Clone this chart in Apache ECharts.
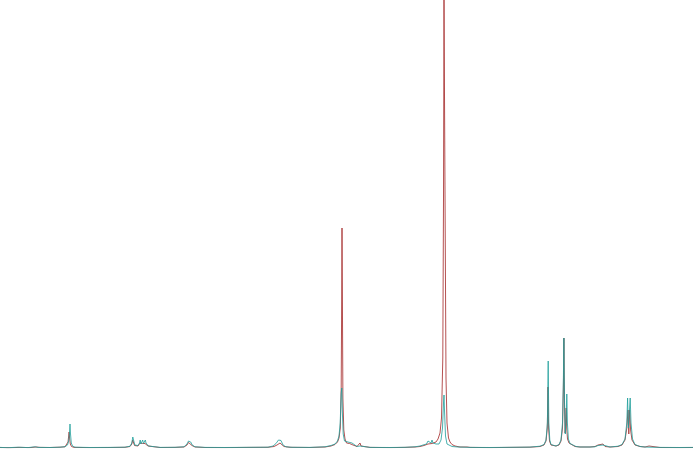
<!DOCTYPE html>
<html>
<head>
<meta charset="utf-8">
<script src="https://cdn.jsdelivr.net/npm/echarts@6/dist/echarts.min.js"></script>
<style>html,body{margin:0;padding:0;background:#fff}#c{width:693px;height:467px}</style>
</head>
<body>
<div id="c"></div>
<script>
// Shift positions (arbitrary units, left to right) and intensities
const redSpectrum = [
[0,0.5],[10,0.3],[20,0.6],[30,0.4],[36,1],[40,0.6],[50,0.5],[60,0.8],[65,1.2],[67,2.5],[68,6],[68.7,12],[69.1,16],[69.6,10],[70.3,4],[71.5,1.5],[74,0.6],[90,0.4],[110,0.5],[125,0.7],[130,1.5],[131.8,4],[132.7,8],[133.1,9],[133.6,6],[134.5,2.5],[136,1.5],[138,2],[139.5,3.5],[140,5],[140.6,3],[141.5,3],[142.4,4.5],[142.8,5],[143.4,3],[144.2,3.2],[145,4.5],[145.4,4.8],[146,3],[146.7,4],[147.2,4],[148,2],[150,0.8],[160,0.5],[175,0.6],[184,1],[187,3],[188.5,5.5],[189.5,7],[190.5,5],[192,2.5],[195,1],[205,0.5],[225,0.4],[250,0.6],[268,0.7],[274,1.5],[277,3],[279,4.5],[280,5],[281.5,3.5],[284,1.5],[290,0.7],[310,0.5],[325,1],[331,2],[335,3.5],[337.5,6],[339,10],[340.3,20],[341.2,60],[341.7,150],[342,220],[342.4,150],[342.9,50],[343.8,18],[345,9],[346.5,5],[348,4],[349.5,4.5],[351,3.5],[353,3],[355,2],[357,1.5],[359,3],[360,5],[361,2],[363,1],[370,0.6],[390,0.4],[405,0.6],[415,1],[420,1.5],[424,2.5],[426,3],[428,4],[430,4],[432,4.5],[434,5],[436,6],[438,9],[440,15],[441.5,30],[442.8,90],[443.5,250],[444,448],[444.6,448],[445.3,200],[446,70],[447,25],[448.5,10],[450,6],[452,3.5],[455,2],[460,1],[464,1],[466,3],[467,1],[470,0.6],[490,0.4],[510,0.6],[530,0.8],[540,1.5],[544,3],[546,7],[547.3,20],[548,61],[548.6,20],[549.5,7],[551,3],[553,2],[556,2],[559,3],[561,7],[562.5,20],[563.4,60],[563.9,110],[564.5,45],[565.1,15],[565.7,25],[566.2,40],[566.7,20],[567.5,9],[569,5],[571,3],[575,1.5],[580,1],[590,1],[595,1.5],[598,3],[600,1.5],[603,4],[605,1.5],[610,1],[618,1.5],[622,3],[625,8],[626.8,20],[628,38],[628.8,14],[629.6,38],[630.6,18],[632,8],[635,3],[640,1.5],[645,1],[649,2],[651,1],[660,0.5],[680,0.4],[693,0.5]
];
const tealSpectrum = [
[0,0.6],[8,0.3],[18,0.8],[28,0.4],[35,1.2],[38,0.6],[50,0.5],[60,0.8],[65,1.3],[67.5,3],[68.7,7],[69.5,15],[70,24],[70.5,14],[71.3,5],[72.5,2],[75,0.8],[90,0.5],[110,0.6],[125,0.8],[130,1.8],[131.8,5],[132.8,11],[133.2,12],[133.8,7],[134.8,3],[136.5,2],[138,2.5],[139.5,5],[140.2,8],[140.9,4],[141.8,4.5],[142.7,8],[143.5,4.5],[144.5,4.5],[145.3,8],[146,5],[146.9,7],[147.5,5],[148.5,2],[150,1],[160,0.6],[175,0.7],[184,1.2],[187,4],[188.5,7],[189.5,9],[190.7,6],[192.2,3],[195,1.2],[205,0.6],[225,0.5],[250,0.7],[268,0.8],[273,2],[276,4.5],[278.5,8],[279.8,9],[281,7.5],[283,3],[286,1.2],[292,0.7],[310,0.6],[325,1.2],[331,2.5],[335,4],[337.5,7],[339,12],[340.2,25],[341.2,55],[341.8,60],[342.4,35],[343.2,14],[344.5,7],[346.5,5],[348,6],[350,7],[352,5],[354,3],[357,1.5],[360,2],[362,1],[370,0.6],[390,0.5],[405,0.7],[415,1.2],[420,2],[423,3],[425,5],[426.5,4],[428,7],[429,5],[430,8],[431,5],[432,8],[433,5],[434.5,4],[436,4],[437.5,3],[439,4],[441,8],[442.5,20],[443.5,45],[444,53],[444.6,35],[445.5,12],[447,4],[449,2],[452,1.5],[458,1],[465,0.8],[470,0.6],[490,0.5],[510,0.7],[530,0.9],[540,1.8],[544,3.5],[546,8],[547.4,25],[548.2,87],[548.8,25],[549.8,8],[551,3.5],[553,2],[556,2],[559,3.5],[561,8],[562.5,25],[563.4,70],[563.9,110],[564.6,40],[565.3,14],[566.2,30],[566.8,54],[567.4,25],[568.4,9],[570,4.5],[572,2.5],[576,1.5],[580,1],[590,1],[595,1.2],[598,2.5],[600,1.2],[603,3],[605,1.2],[610,1],[618,1.8],[622,3.5],[625,9],[626.8,25],[627.6,50],[628.4,20],[629.2,20],[630.2,50],[631,25],[632.5,9],[635,3.5],[640,1.5],[645,1],[650,0.8],[660,0.6],[680,0.5],[693,0.6]
];
const shiftRange = [0, 693];
const intensityRange = [0, 448];

const chart = echarts.init(document.getElementById('c'), null, {renderer: 'canvas'});
chart.setOption({
  animation: false,
  backgroundColor: '#ffffff',
  grid: {left: 0, right: 0, top: 0, bottom: 19, containLabel: false},
  xAxis: {type: 'value', min: shiftRange[0], max: shiftRange[1], show: false},
  yAxis: {type: 'value', min: intensityRange[0], max: intensityRange[1], show: false},
  series: [
    {type: 'line', data: redSpectrum, showSymbol: false, smooth: false,
     lineStyle: {color: '#a83232', width: 1, opacity: 0.85}, itemStyle: {color: '#a83232'}},
    {type: 'line', data: tealSpectrum, showSymbol: false, smooth: false,
     lineStyle: {color: '#1f9f9b', width: 1, opacity: 0.8}, itemStyle: {color: '#1f9f9b'}}
  ]
});
</script>
</body>
</html>
